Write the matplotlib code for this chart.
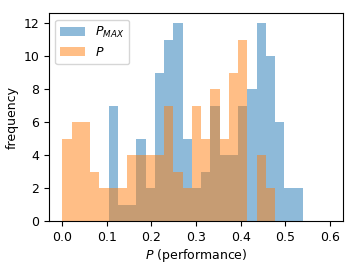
import numpy as np
import matplotlib
matplotlib.use("Agg")
import matplotlib.pyplot as plt

# shared bin edges (26 bins from 0 to 0.54)
bin_edges = np.linspace(0, 0.54, 27)

# counts per bin
p_max_counts = [0, 0, 0, 0, 0, 7, 1, 1, 5, 2, 9, 11, 12, 5, 2, 3, 7, 4, 4, 7,
                8, 12, 10, 6, 2, 2]
p_counts = [5, 6, 6, 3, 2, 2, 2, 4, 4, 4, 4, 7, 3, 2, 7, 5, 8, 5, 9, 11,
            0, 4, 2, 0, 0, 0]

plt.rcParams['font.size'] = 9

fig = plt.figure(figsize=(3.57, 2.68), dpi=100)
ax = fig.add_axes([0.137, 0.175, 0.824, 0.775])

left = bin_edges[:-1]
ax.hist(left, bins=bin_edges, weights=p_max_counts, alpha=0.5,
        label=r'$P_{MAX}$')
ax.hist(left, bins=bin_edges, weights=p_counts, alpha=0.5, label=r'$P$')

ax.set_xlim(-0.03, 0.63)
ax.set_xticks([0.0, 0.1, 0.2, 0.3, 0.4, 0.5, 0.6])
ax.set_yticks([0, 2, 4, 6, 8, 10, 12])
ax.set_xlabel(r'$P$ (performance)', labelpad=2)
ax.set_ylabel('frequency', labelpad=3)
ax.legend(loc='upper left', fontsize=9)

fig.savefig('out.png')
